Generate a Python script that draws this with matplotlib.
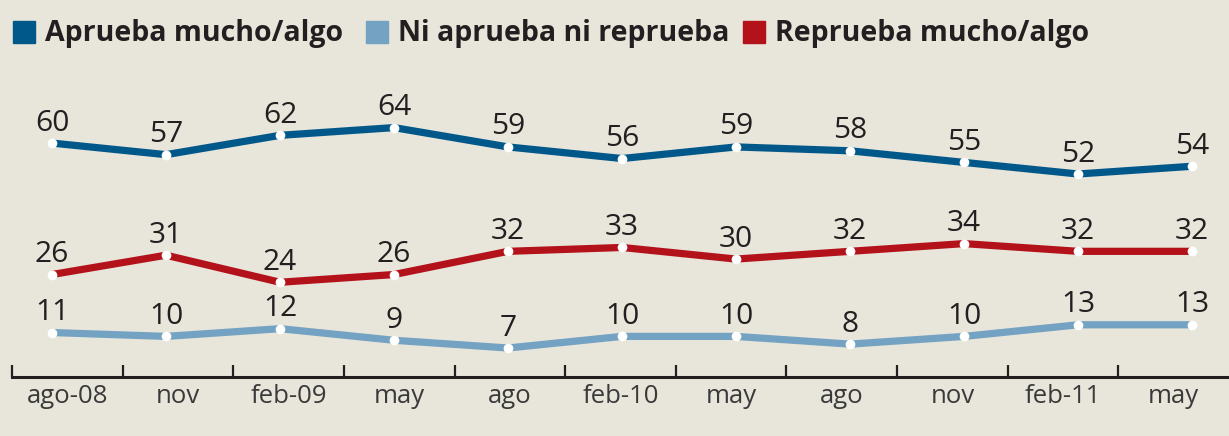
import matplotlib
matplotlib.use("Agg")
import matplotlib.pyplot as plt
from matplotlib.patches import Rectangle

categories = ["ago-08", "nov", "feb-09", "may", "ago", "feb-10", "may", "ago", "nov", "feb-11", "may"]
aprueba = [60, 57, 62, 64, 59, 56, 59, 58, 55, 52, 54]
ni = [11, 10, 12, 9, 7, 10, 10, 8, 10, 13, 13]
reprueba = [26, 31, 24, 26, 32, 33, 30, 32, 34, 32, 32]

series_names = ["Aprueba mucho/algo", "Ni aprueba ni reprueba", "Reprueba mucho/algo"]
colors = ["#00578a", "#74a2c2", "#b3121b"]
bg = "#e8e5da"
txt = "#231f20"

W, H = 1229, 436
fig = plt.figure(figsize=(W / 100, H / 100), dpi=100, facecolor=bg)
# axes spans pixels x 12..1229, y 0..377
ax = fig.add_axes([12 / W, (H - 377) / H, (W - 12) / W, 377 / H])
ax.set_facecolor(bg)

px_per_unit = 114.0
x0 = -(52 - 12) / px_per_unit
x1 = (len(categories) - 1) + (1229 - 1192) / px_per_unit
ax.set_xlim(x0, x1)
ax.set_ylim(-0.5, 97.0)

xs = list(range(len(categories)))
for vals, col in zip([aprueba, reprueba, ni], [colors[0], colors[2], colors[1]]):
    ax.plot(xs, vals, color=col, lw=5.2, solid_capstyle="butt", solid_joinstyle="round", zorder=2)
    ax.plot(xs, vals, "o", color="white", ms=7, mec="none", zorder=3)
    for x, v in zip(xs, vals):
        ax.annotate(str(v), (x, v), xytext=(0, 9), textcoords="offset points",
                    ha="center", va="baseline", fontsize=21.5, color=txt,
                    family="Open Sans")

# category bands: width in pixels 110.6 starting at 12
band = (1229 - 12) / len(categories) / px_per_unit
bounds = [x0 + band * k for k in range(len(categories) + 1)]
centers = [x0 + band * (k + 0.5) for k in range(len(categories))]
ax.set_xticks(bounds[:-1])
ax.set_xticklabels([])
ax.tick_params(axis="x", direction="in", length=9, width=1.6, color=txt)
ax.set_xticks(centers, minor=True)
ax.set_xticklabels(categories, minor=True, fontsize=18.5, color="#3a3a3a", family="Open Sans")
ax.tick_params(axis="x", which="minor", length=0, pad=5)
ax.set_yticks([])
for s in ["top", "right", "left"]:
    ax.spines[s].set_visible(False)
ax.spines["bottom"].set_linewidth(2.2)
ax.spines["bottom"].set_color(txt)

# legend
leg_x = [13, 366, 743]
for lx, name, col in zip(leg_x, series_names, colors):
    fig.patches.append(Rectangle((lx / W, (H - 43) / H), 22 / W, 22 / H,
                                 transform=fig.transFigure, color=col))
    fig.text((lx + 32) / W, (H - 33) / H, name, fontsize=20.5, fontweight="bold",
             color=txt, va="center", ha="left", family="Open Sans")

fig.savefig("out.png", dpi=100, facecolor=bg)
